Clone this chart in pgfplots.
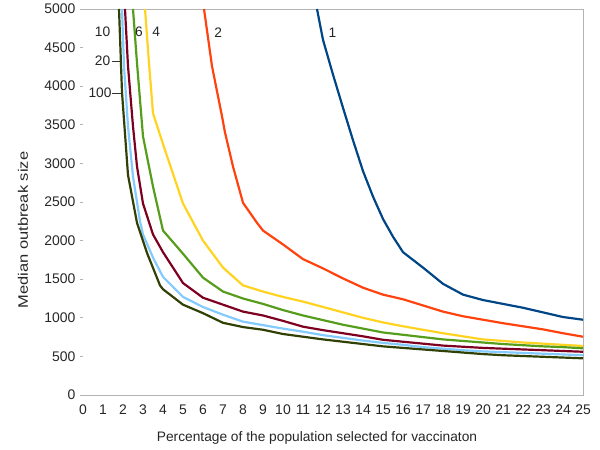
\documentclass[border=0pt]{standalone}
\usepackage{fontspec}
\setmainfont{Liberation Sans}
\usepackage{graphicx}
\usepackage{pgfplots}
\pgfplotsset{compat=1.18}
\definecolor{c1}{HTML}{004586}
\definecolor{c2}{HTML}{FF420E}
\definecolor{c4}{HTML}{FFD320}
\definecolor{c6}{HTML}{579D1C}
\definecolor{c10}{HTML}{7E0021}
\definecolor{c20}{HTML}{83CAFF}
\definecolor{c100}{HTML}{314004}
\definecolor{axgray}{HTML}{B3B3B3}
\begin{document}
\begin{tikzpicture}[x=1bp,y=1bp]
\path[use as bounding box] (-83,-55) rectangle (517,395);
\begin{axis}[
  at={(0,0)}, anchor=south west,
  scale only axis, width=500bp, height=386bp,
  xmin=0, xmax=25, ymin=0, ymax=5000,
  clip=false,
  axis line style={draw=none},
  xtick={0,...,25}, xtick pos=bottom,
  ytick={0,500,...,5000}, ytick pos=left,
  x tick style={draw=none},
  y tick style={axgray, line width=0.8pt},
  tick align=outside, major tick length=3bp,
  extra x ticks={2,...,25}, extra x tick labels={},
  extra x tick style={tick align=inside, major tick length=5bp, tick style={axgray, line width=0.8pt, draw=axgray}},
  tick label style={font=\fontsize{14}{16}\selectfont, text=black!85},
  xticklabel style={yshift=-3bp},
  yticklabel style={xshift=-1bp},
  /pgf/number format/assume math mode=true,
  /pgf/number format/1000 sep={},
  xlabel={Percentage of the population selected for vaccinaton},
  ylabel={\scalebox{1.2}[1]{Median outbreak size}},
  label style={font=\fontsize{13.8}{16}\selectfont, text=black!85},
  xlabel style={at={(axis description cs:0.468,-0.111)}, anchor=center},
  ylabel style={at={(axis description cs:-0.12,0.427)}, anchor=center},
  every axis plot/.append style={line width=2.2pt, no markers, line join=round},
]
\draw[axgray, line width=0.8pt] (axis cs:0,0) -- (axis cs:25,0) -- (axis cs:25,5000) -- (axis cs:0,5000);
% 1
\addplot[c1] coordinates {(11.7,5000)(12,4600)(12.5,4150)(13,3720)(13.5,3300)(14,2900)(14.5,2570)(15,2280)(15.5,2050)(16,1850)(17,1650)(18,1440)(19,1300)(20,1230)(21,1180)(22,1130)(23,1070)(24,1010)(25,975)};
% 2
\addplot[c2] coordinates {(6.05,5000)(6.45,4260)(6.95,3610)(7.1,3400)(7.5,2960)(8,2490)(8.7,2230)(9,2130)(10,1950)(11,1760)(12,1640)(13,1510)(14,1390)(15,1300)(16,1240)(17,1160)(18,1080)(19,1020)(20,975)(21,930)(22,890)(23,850)(24,800)(25,755)};
% 4
\addplot[c4] coordinates {(3.1,5000)(3.3,4300)(3.5,3650)(4,3250)(5,2480)(6,2000)(7,1650)(8,1420)(9,1340)(10,1270)(11,1210)(12,1140)(13,1070)(14,1000)(15,940)(16,890)(17,845)(18,800)(19,760)(20,720)(21,700)(22,680)(23,665)(24,650)(25,635)};
% 6
\addplot[c6] coordinates {(2.5,5000)(2.7,4300)(3,3350)(3.5,2700)(4,2130)(5,1830)(6,1520)(7,1340)(8,1250)(9,1180)(10,1100)(11,1030)(12,970)(13,910)(14,860)(15,810)(16,780)(17,750)(18,720)(19,700)(20,680)(21,660)(22,645)(23,630)(24,620)(25,605)};
% 10
\addplot[c10] coordinates {(2.1,5000)(2.25,4260)(2.5,3480)(2.7,2960)(3,2480)(3.5,2080)(4,1850)(5,1450)(6,1260)(7,1170)(8,1080)(9,1030)(10,960)(11,885)(12,840)(13,800)(14,760)(15,715)(16,690)(17,665)(18,640)(19,625)(20,610)(21,600)(22,590)(23,580)(24,570)(25,560)};
% 20
\addplot[c20] coordinates {(1.95,5000)(2.05,4260)(2.25,3480)(2.5,2830)(2.85,2250)(3,2080)(3.5,1780)(4,1530)(5,1270)(6,1140)(7,1040)(8,950)(9,905)(10,860)(11,820)(12,775)(13,740)(14,705)(15,675)(16,650)(17,620)(18,600)(19,580)(20,565)(21,555)(22,545)(23,535)(24,525)(25,515)};
% 100
\addplot[c100] coordinates {(1.8,5000)(1.95,3920)(2.25,2850)(2.7,2230)(3.2,1840)(3.85,1420)(4,1370)(5,1170)(6,1060)(7,935)(8,880)(9,845)(10,790)(11,755)(12,720)(13,690)(14,660)(15,630)(16,610)(17,590)(18,570)(19,550)(20,530)(21,515)(22,505)(23,495)(24,485)(25,475)};
% labels
\begin{scope}[every node/.style={font=\fontsize{13.8}{16}\selectfont, text=black!85, inner sep=0pt}]
\node at (axis cs:0.98,4710) {10};
\node at (axis cs:2.8,4710) {6};
\node at (axis cs:3.66,4710) {4};
\node at (axis cs:6.76,4690) {2};
\node at (axis cs:12.47,4690) {1};
\node at (axis cs:0.98,4325) {20};
\node at (axis cs:0.85,3910) {100};
\end{scope}
\draw[black!80, line width=0.8pt] (axis cs:1.45,4325) -- (axis cs:1.95,4325);
\draw[black!80, line width=0.8pt] (axis cs:1.45,3910) -- (axis cs:1.95,3910);
\end{axis}
\end{tikzpicture}
\end{document}
